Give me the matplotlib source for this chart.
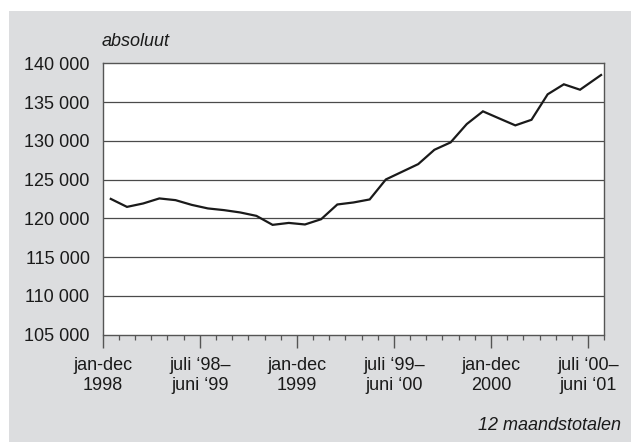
import matplotlib
matplotlib.use("Agg")
import matplotlib.pyplot as plt
from matplotlib.patches import Rectangle
from matplotlib.ticker import FuncFormatter, MultipleLocator

plt.rcParams['font.family'] = ['Liberation Sans', 'DejaVu Sans']

# =========== data (12 maandstotalen, absoluut) ===========
month_pos = [0.5, 1.5, 2.5, 3.5, 4.5, 5.5, 6.5, 7.5, 8.5, 9.5,
             10.5, 11.5, 12.5, 13.5, 14.5, 15.5, 16.5, 17.5, 18.5, 19.5,
             20.5, 21.5, 22.5, 23.5, 24.5, 25.5, 26.5, 27.5, 28.5, 29.5,
             30.8]
totals = [122500, 121470, 121910, 122560, 122340, 121730, 121270, 121050, 120750, 120310,
          119150, 119400, 119200, 119880, 121780, 122040, 122430, 125010, 126000, 126990,
          128840, 129790, 132160, 133800, 132890, 131990, 132710, 136000, 137290, 136590,
          138490]

major_pos = [0, 6, 12, 18, 24, 30]
major_labels = ["jan-dec\n1998", "juli \u201898\u2013\njuni \u201899", "jan-dec\n1999",
                "juli \u201899\u2013\njuni \u201800", "jan-dec\n2000", "juli \u201800\u2013\njuni \u201801"]
y_ticks = [105000, 110000, 115000, 120000, 125000, 130000, 135000, 140000]

W, H = 631, 442
fig = plt.figure(figsize=(W / 100, H / 100), dpi=100)
fig.patch.set_facecolor('white')

# grey panel behind the chart
fig.patches.append(Rectangle((9 / W, 0), 1 - 9 / W, 1 - 11 / H, transform=fig.transFigure,
                             facecolor='#dcdddf', edgecolor='none', zorder=-10))

ax = fig.add_axes([102.7 / W, 1 - 334.5 / H, 501.6 / W, 271.2 / H])
ax.set_zorder(5)
ax.set_facecolor('white')

for y in y_ticks[1:-1]:
    ax.axhline(y, color='#4a4a4a', lw=0.9, zorder=1)

ax.plot(month_pos, totals, color='#1a1a1a', lw=1.6, zorder=3, solid_joinstyle='miter')

ax.set_xlim(0, 31)
ax.set_ylim(105000, 140000)

ax.set_yticks(y_ticks)
ax.yaxis.set_major_formatter(FuncFormatter(lambda v, p: f"{int(v):,}".replace(",", " ")))
ax.tick_params(axis='y', length=0, pad=9.5, labelsize=13, labelcolor='#1a1a1a')

ax.set_xticks(major_pos)
ax.set_xticklabels(major_labels, linespacing=1.25)
ax.xaxis.set_minor_locator(MultipleLocator(1))
ax.tick_params(axis='x', which='major', length=9.4, width=1.0, color='#555555',
               pad=6.5, labelsize=13, labelcolor='#1a1a1a')
ax.tick_params(axis='x', which='minor', length=3.8, width=0.9, color='#555555')

for s in ax.spines.values():
    s.set_color('#555555')
    s.set_linewidth(1.0)

fig.text(101.7 / W, 1 - 41 / H, "absoluut", style='italic', fontsize=13,
         ha='left', va='center', color='#1a1a1a', zorder=6)
fig.text(620.7 / W, 1 - 426 / H, "12 maandstotalen", style='italic', fontsize=13,
         ha='right', va='center', color='#1a1a1a', zorder=6)

fig.savefig("out.png", dpi=100, facecolor=fig.get_facecolor())
